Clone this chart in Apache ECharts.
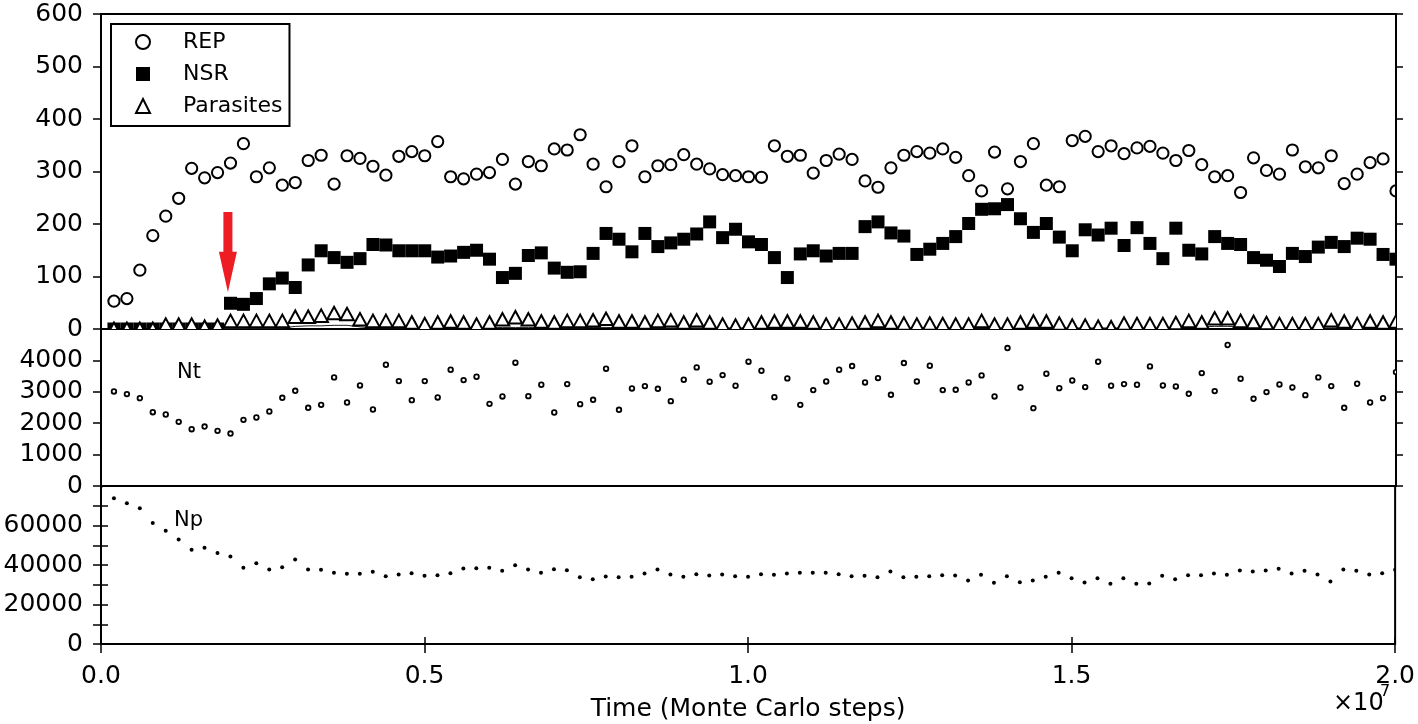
<!DOCTYPE html>
<html><head><meta charset="utf-8">
<script src="https://cdn.jsdelivr.net/npm/echarts@6/dist/echarts.min.js"></script>
<style>html,body{margin:0;padding:0;background:#fff}#c{width:1418px;height:724px}</style>
</head><body><div id="c"></div>
<script>
// Time of each sample, in units of 1e5 Monte Carlo steps
const timeSteps = [2,4,6,8,10,12,14,16,18,20,22,24,26,28,30,32,34,36,38,40,42,44,46,48,50,52,54,56,58,60,62,64,66,68,70,72,74,76,78,80,82,84,86,88,90,92,94,96,98,100,102,104,106,108,110,112,114,116,118,120,122,124,126,128,130,132,134,136,138,140,142,144,146,148,150,152,154,156,158,160,162,164,166,168,170,172,174,176,178,180,182,184,186,188,190,192,194,196,198,200];
const repValues = [53,58,112,178,215,249,306,288,298,316,353,290,307,274,279,321,331,276,330,325,310,293,329,338,330,357,290,286,295,298,323,276,319,311,343,341,370,314,271,319,349,290,311,313,332,314,305,294,292,290,289,349,329,331,297,321,333,323,282,270,307,331,338,335,343,327,292,263,337,267,319,353,274,271,359,367,338,349,334,345,348,335,321,340,313,290,292,260,326,302,295,341,309,307,330,277,295,317,324,263];
const nsrValues = [0,0,0,0,0,0,0,0,0,49,47,58,86,97,79,122,149,136,127,134,161,160,149,149,149,137,139,146,150,133,98,106,140,145,116,108,109,144,182,171,147,182,157,164,171,181,204,174,190,166,161,136,98,143,149,139,144,144,195,204,183,177,142,152,163,176,201,228,229,237,210,184,201,175,149,189,179,192,159,193,163,134,192,150,143,176,163,161,136,131,119,144,138,156,165,157,173,171,142,133];
const parasiteValues = [0,0,0,0,8,8,8,4,6,15,15,15,15,15,23,23,25,30,28,18,15,15,15,12,9,12,14,12,8,12,18,22,18,14,12,15,15,16,19,14,14,12,15,16,12,16,12,8,6,8,12,14,14,14,12,8,8,10,12,15,12,10,8,10,9,8,8,15,8,8,12,14,14,10,6,6,4,3,10,9,9,9,11,15,12,20,20,15,13,11,9,9,9,9,16,14,9,14,12,14];
const lowLineValues = [1,1,1,1,1,1,1,1,1,1,1,1,1,2,5,6,6,7,7,4,2,2,2,2,2,2,2,2,2,2,3,3,3,2,2,2,2,3,3,2,2,2,2,2,2,2,2,2,2,2,2,2,2,2,2,2,2,2,2,2,2,2,2,2,2,2,2,2,2,2,2,2,2,2,2,2,2,2,2,2,2,2,3,4,4,5,5,4,3,2,2,2,2,2,2,2,2,2,2,2];
const ntValues = [3011,2926,2798,2351,2277,2043,1809,1894,1756,1670,2107,2181,2373,2809,3032,2490,2585,3458,2660,3203,2437,3862,3341,2734,3341,2820,3703,3373,3479,2617,2852,3926,2862,3224,2341,3245,2607,2745,3735,2426,3107,3181,3096,2703,3384,3777,3320,3532,3192,3958,3671,2830,3426,2585,3054,3330,3703,3820,3298,3437,2905,3916,3330,3830,3054,3064,3298,3522,2852,4394,3139,2479,3575,3117,3362,3149,3958,3192,3245,3224,3809,3203,3171,2937,3596,3022,4490,3415,2777,2990,3234,3139,2894,3458,3181,2490,3256,2660,2798,3628];
const npTimes = [0].concat(timeSteps);
const npValues = [80000,73771,71233,68695,61250,57359,52960,47714,48730,46022,44330,38578,40946,37732,38916,42808,37732,37562,36040,35532,35532,36547,34348,35194,35870,34517,34855,35870,38239,38408,38578,37055,39931,37732,36040,37901,37393,33840,32825,34178,33840,34009,35701,37732,35194,34009,35363,34686,35194,34348,34009,35363,35024,35701,36040,36040,36040,35363,34348,34517,33840,36716,33840,34009,34348,34855,34686,32148,35024,30964,34348,31302,32148,34009,36040,33332,31133,33332,30456,33332,30456,30625,34517,32825,34855,34855,35701,35024,37224,36716,37224,38070,35701,37055,35194,31640,37732,37055,35194,35870,37562];
const seriesNames = ['REP','NSR','Parasites'];
const xTickLabels = ['0.0','0.5','1.0','1.5','2.0'];
const arrowTime = 1.96e6, arrowTop = 223, arrowNeck = 147, arrowTip = 70;

const FONT = 'DejaVu Sans';
const chart = echarts.init(document.getElementById('c'), null, {renderer:'canvas'});

function pairs(times, vals){ return times.map((t,i)=>[t*1e5, vals[i]]); }
function customScatter(name, xi, yi, times, vals, shape, z){
  return {type:'custom', name, xAxisIndex:xi, yAxisIndex:yi, clip:true, z:z||2,
    data: pairs(times, vals), encode:{x:0, y:1}, silent:true,
    renderItem(params, api){ const p = api.coord([api.value(0), api.value(1)]); return shape(p); }};
}
const grids = [
  {left:101, top:14, width:1295, height:315},
  {left:101, top:329, width:1295, height:157},
  {left:101, top:486, width:1295, height:158}
].map(g=>Object.assign(g,{show:true, borderColor:'#000', borderWidth:2, backgroundColor:'transparent'}));

const tickStyle = {color:'#000', width:1.5};
function xAx(gi, opts){
  return Object.assign({type:'value', gridIndex:gi, min:0, max:2e7, interval:5e6,
    axisLine:{show:false}, splitLine:{show:false}, axisTick:{show:false}, axisLabel:{show:false}}, opts||{});
}
function yAx(gi, max, interval, pos, labelFn){
  const left = pos==='left';
  return {type:'value', gridIndex:gi, position:pos, min:0, max, interval,
    axisLine:{show:false}, splitLine:{show:false},
    axisTick:{show:true, inside:false, length: left?8:7, lineStyle:tickStyle},
    axisLabel:{show:left, margin:18, color:'#000', fontFamily:FONT, fontSize:25, formatter:labelFn}};
}
const option = {
  animation:false,
  grid: grids,
  xAxis:[
    xAx(0), xAx(1),
    xAx(2, {position:'bottom', axisTick:{show:true, inside:false, length:9, lineStyle:tickStyle},
      axisLabel:{show:true, margin:20, color:'#000', fontFamily:FONT, fontSize:25,
        formatter:v=>xTickLabels[Math.round(v/5e6)]},
      name:'Time (Monte Carlo steps)', nameLocation:'middle', nameGap:53,
      nameTextStyle:{color:'#000', fontFamily:FONT, fontSize:25}}),
    xAx(2, {position:'top', axisTick:{show:true, inside:false, length:7, lineStyle:tickStyle}})
  ],
  yAxis:[
    yAx(0, 600, 100, 'left', v=>String(v)), yAx(0, 600, 100, 'right'),
    yAx(1, 5000, 1000, 'left', v=> v>=5000 ? '' : String(v)), yAx(1, 5000, 1000, 'right'),
    yAx(2, 80000, 10000, 'left', v=> (v%20000===0 && v<80000) ? String(v) : ''), yAx(2, 80000, 10000, 'right')
  ],
  legend:{
    left:111, top:24, orient:'vertical', padding:[7,7,9,24], itemGap:10, itemWidth:14, itemHeight:14,
    borderColor:'#000', borderWidth:2, borderRadius:0, backgroundColor:'#fff', selectedMode:false,
    textStyle:{fontFamily:FONT, fontSize:22, color:'#000', padding:[0,0,0,28], lineHeight:22},
    data:[
      {name:seriesNames[0], icon:'circle', itemStyle:{color:'#fff', borderColor:'#000', borderWidth:2}},
      {name:seriesNames[1], icon:'rect', itemStyle:{color:'#000', borderWidth:0}},
      {name:seriesNames[2], icon:'triangle', itemStyle:{color:'#fff', borderColor:'#000', borderWidth:2}}
    ]
  },
  series:[
    {type:'line', name:'low', xAxisIndex:0, yAxisIndex:0, data:pairs(timeSteps, lowLineValues), showSymbol:false,
      lineStyle:{color:'#222', width:1}, clip:true, silent:true, z:1},
    customScatter(seriesNames[0], 0, 0, timeSteps, repValues, p=>({type:'circle', shape:{cx:p[0], cy:p[1], r:5.6},
      style:{fill:'rgba(255,255,255,0)', stroke:'#000', lineWidth:2}})),
    customScatter(seriesNames[1], 0, 0, timeSteps, nsrValues, p=>({type:'rect', shape:{x:p[0]-6.5, y:p[1]-6.5, width:13, height:13},
      style:{fill:'#000'}})),
    customScatter(seriesNames[2], 0, 0, timeSteps, parasiteValues, p=>({type:'polygon',
      shape:{points:[[p[0], p[1]-6.5],[p[0]-6.8, p[1]+6],[p[0]+6.8, p[1]+6]]},
      style:{fill:'#fff', stroke:'#000', lineWidth:2}}), 3),
    customScatter('Nt', 1, 2, timeSteps, ntValues, p=>({type:'circle', shape:{cx:p[0], cy:p[1], r:2.3},
      style:{fill:'#fff', stroke:'#000', lineWidth:1.8}})),
    customScatter('Np', 2, 4, npTimes, npValues, p=>({type:'circle', shape:{cx:p[0], cy:p[1], r:2},
      style:{fill:'#000'}}))
  ]
};
chart.setOption(option);

const f = {xAxisIndex:0, yAxisIndex:0};
const pTop = chart.convertToPixel(f, [arrowTime, arrowTop]);
const pNeck = chart.convertToPixel(f, [arrowTime, arrowNeck]);
const pTip = chart.convertToPixel(f, [arrowTime, arrowTip]);
const ax = pTop[0];
chart.setOption({graphic:[
  {type:'polygon', z:100, silent:true, shape:{points:[[ax-4.5,pTop[1]],[ax+4.5,pTop[1]],[ax+4.5,pNeck[1]],[ax+9,pNeck[1]],[ax,pTip[1]],[ax-9,pNeck[1]],[ax-4.5,pNeck[1]]]},
    style:{fill:'#ee1d23'}},
  {type:'text', z:100, silent:true, style:{text:'Nt', x:177, y:372.5, font:'21px "DejaVu Sans"', fill:'#000', textVerticalAlign:'middle'}},
  {type:'text', z:100, silent:true, style:{text:'Np', x:174, y:521, font:'21px "DejaVu Sans"', fill:'#000', textVerticalAlign:'middle'}},
  {type:'text', z:100, silent:true, style:{text:'×10', x:1333, y:704, font:'24px "DejaVu Sans"', fill:'#000', textVerticalAlign:'middle'}},
  {type:'text', z:100, silent:true, style:{text:'7', x:1380, y:692, font:'16px "DejaVu Sans"', fill:'#000', textVerticalAlign:'middle'}}
]});
</script></body></html>
